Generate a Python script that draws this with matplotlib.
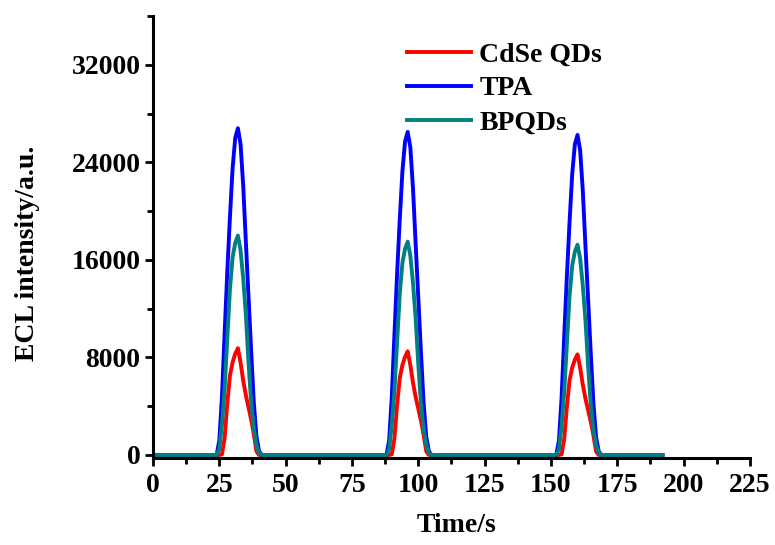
import matplotlib
matplotlib.use("Agg")
import matplotlib.pyplot as plt
from matplotlib.ticker import MultipleLocator

plt.rcParams['font.family'] = ['Liberation Serif', 'DejaVu Serif']
plt.rcParams['font.weight'] = 'bold'

# Time axis: baseline start, three pulse windows (1 s steps), baseline end
time_s = ([0] + list(range(24, 42)) + list(range(88, 106)) + list(range(152, 170)) + [192])

cdse_p1 = [0, 0, 50, 1400, 4200, 6500, 7600, 8300, 8760, 7600, 6100, 4900, 3900, 2900, 1700, 300, 0, 0]
cdse_p2 = [0, 0, 50, 1360, 4070, 6300, 7370, 8050, 8500, 7370, 5920, 4750, 3780, 2810, 1650, 290, 0, 0]
cdse_p3 = [0, 0, 50, 1320, 3960, 6120, 7160, 7820, 8250, 7160, 5750, 4620, 3670, 2730, 1600, 280, 0, 0]

tpa_p1 = [0, 1200, 4800, 10000, 15000, 19500, 23500, 26000, 26800, 25500, 22100, 17500, 13000, 8500, 4300, 1500, 300, 0]
tpa_p2 = [0, 1190, 4750, 9890, 14840, 19290, 23240, 25710, 26500, 25220, 21860, 17310, 12860, 8410, 4250, 1480, 300, 0]
tpa_p3 = [0, 1180, 4700, 9800, 14690, 19100, 23020, 25470, 26250, 24980, 21650, 17140, 12730, 8330, 4210, 1470, 290, 0]

bpqd_p1 = [0, 500, 2500, 5400, 9500, 13600, 16200, 17400, 18000, 16800, 14500, 11500, 7600, 4300, 2200, 800, 150, 0]
bpqd_p2 = [0, 490, 2430, 5250, 9230, 13220, 15750, 16910, 17500, 16330, 14090, 11180, 7390, 4180, 2140, 780, 150, 0]
bpqd_p3 = [0, 480, 2400, 5170, 9100, 13030, 15520, 16670, 17250, 16090, 13890, 11020, 7280, 4120, 2110, 770, 140, 0]

cdse = [0] + cdse_p1 + cdse_p2 + cdse_p3 + [0]
tpa = [0] + tpa_p1 + tpa_p2 + tpa_p3 + [0]
bpqd = [0] + bpqd_p1 + bpqd_p2 + bpqd_p3 + [0]

labels = ["CdSe QDs", "TPA", "BPQDs"]
colors = ["#FF0000", "#0000FF", "#008080"]

fig = plt.figure(figsize=(7.75, 5.45), dpi=100)
ax = fig.add_axes([0.1974, 0.1596, 0.7703, 0.811])

for y, lab, c in zip([cdse, tpa, bpqd], labels, colors):
    ax.plot(time_s, y, color=c, lw=2.8, label=lab, solid_joinstyle='round')

ax.set_xlim(0, 225)
ax.set_ylim(-250, 36000)
ax.xaxis.set_major_locator(MultipleLocator(25))
ax.xaxis.set_minor_locator(MultipleLocator(12.5))
ax.yaxis.set_major_locator(MultipleLocator(8000))
ax.yaxis.set_minor_locator(MultipleLocator(4000))

for s in ['top', 'right']:
    ax.spines[s].set_visible(False)
for s in ['left', 'bottom']:
    ax.spines[s].set_linewidth(2.2)

ax.tick_params(which='major', direction='out', length=6, width=2, labelsize=20)
ax.tick_params(axis='x', which='major', pad=5)
ax.tick_params(axis='y', which='major', pad=3)
ax.tick_params(which='minor', direction='out', length=4, width=2)
for t in ax.get_xticklabels() + ax.get_yticklabels():
    t.set_fontweight('bold')

ax.set_xlabel("Time/s", fontsize=20, fontweight='bold')
ax.set_ylabel("ECL intensity/a.u.", fontsize=20, fontweight='bold')
ax.xaxis.set_label_coords(0.509, -0.124)
ax.yaxis.set_label_coords(-0.19, 0.464)

leg = ax.legend(loc='upper left', bbox_to_anchor=(0.384, 0.998), frameon=False,
                handlelength=2.3, handletextpad=0.3, labelspacing=0.31,
                prop={'weight': 'bold', 'size': 20})

fig.savefig("out.png", dpi=100)
